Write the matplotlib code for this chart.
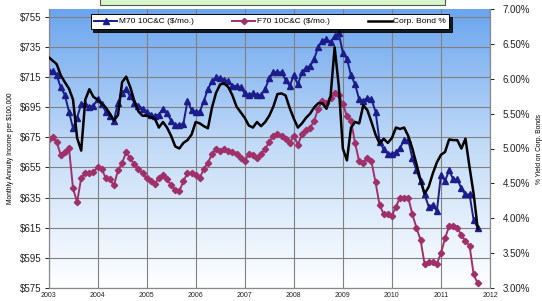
import numpy as np
import matplotlib
matplotlib.use("Agg")
import matplotlib.pyplot as plt
from matplotlib.patches import Rectangle
from matplotlib.colors import LinearSegmentedColormap

plt.rcParams['font.family'] = ['Liberation Sans', 'DejaVu Sans']

# monthly readings, Jan 2003 .. Oct 2011
start_year = 2003
m70 = [719, 719, 716, 708, 703, 692, 681, 688, 697, 697,
       695, 696, 700, 697, 692, 689, 686, 698, 704, 707,
       702, 698, 696, 694, 692, 690, 689, 690, 694, 691,
       686, 683, 683, 684, 699, 693, 692, 692, 699, 707,
       712, 715, 714, 713, 712, 709, 709, 708, 704, 703,
       704, 703, 703, 707, 714, 718, 718, 718, 713, 709,
       716, 710, 718, 721, 722, 727, 735, 739, 740, 738,
       742, 744, 731, 727, 716, 710, 700, 699, 701, 700,
       692, 672, 667, 664, 664, 665, 668, 673, 673, 661,
       653, 646, 637, 629, 630, 626, 650, 646, 653, 647,
       647, 641, 637, 637, 620, 615]
f70 = [674, 675, 672, 663, 665, 668, 641, 632, 648, 651,
       651, 652, 655, 654, 648, 647, 643, 653, 658, 665,
       661, 657, 654, 651, 648, 646, 644, 648, 650, 647,
       643, 640, 639, 646, 651, 651, 650, 648, 654, 658,
       664, 667, 666, 667, 666, 665, 664, 661, 659, 664,
       663, 661, 664, 667, 672, 676, 677, 676, 674, 671,
       676, 670, 677, 680, 681, 686, 694, 699, 698, 701,
       704, 703, 697, 689, 686, 671, 659, 658, 661, 659,
       645, 630, 624, 624, 623, 629, 635, 635, 635, 624,
       615, 607, 591, 592, 592, 591, 598, 608, 616, 616,
       615, 610, 606, 603, 584, 578]
bond = [6.31, 6.26, 6.21, 6.05, 5.95, 5.86, 5.70, 5.15, 4.97, 5.70,
        5.85, 5.74, 5.70, 5.64, 5.59, 5.50, 5.40, 5.48, 5.95, 6.03,
        5.88, 5.68, 5.53, 5.47, 5.47, 5.45, 5.43, 5.30, 5.38, 5.30,
        5.18, 5.03, 5.00, 5.08, 5.12, 5.20, 5.38, 5.36, 5.32, 5.29,
        5.59, 5.80, 5.92, 5.93, 5.88, 5.76, 5.60, 5.52, 5.44, 5.33,
        5.30, 5.38, 5.32, 5.38, 5.47, 5.60, 5.78, 5.79, 5.76, 5.58,
        5.43, 5.30, 5.36, 5.44, 5.50, 5.59, 5.65, 5.65, 5.57, 5.75,
        6.45, 5.90, 5.00, 4.83, 5.30, 5.38, 5.36, 5.62, 5.55, 5.38,
        5.20, 5.07, 5.14, 5.08, 5.15, 5.30, 5.28, 5.30, 5.18, 5.00,
        4.78, 4.55, 4.35, 4.45, 4.64, 4.80, 4.91, 4.95, 5.13, 5.12,
        5.12, 5.00, 5.14, 4.73, 4.35, 3.85]
years = list(range(2003, 2013))
left_ticks = list(range(575, 756, 20))
right_ticks = [3.0, 3.5, 4.0, 4.5, 5.0, 5.5, 6.0, 6.5, 7.0]

t = start_year + np.arange(len(m70)) / 12.0

fig = plt.figure(figsize=(5.42, 3.01), dpi=100)
ax = fig.add_axes([48.5 / 542, 1 - 288 / 301, (490 - 48.5) / 542, (288 - 9) / 301])

# blue-to-white background gradient
cmap = LinearSegmentedColormap.from_list("bg", ["#ffffff", "#c4dcf8", "#6ba5ee"])
grad = np.linspace(0, 1, 256).reshape(-1, 1)
ax.imshow(grad, cmap=cmap, aspect="auto", extent=[0, 1, 0, 1],
          transform=ax.transAxes, origin="lower", zorder=0)

grid_c = "#808080"
ax.set_xlim(2003, 2012)
ax.set_ylim(575, 760)
ax.set_xticks(years)
ax.set_xticklabels([str(y) for y in years], fontsize=5)
ax.set_yticks(left_ticks)
ax.set_yticklabels([f"${v}" for v in left_ticks], fontsize=7)
for y in left_ticks:
    ax.axhline(y, color=grid_c, lw=0.8, zorder=1)
for x in years:
    ax.axvline(x, color=grid_c, lw=0.8, zorder=1)
ax.tick_params(axis="x", length=0, pad=3, colors="#222222")
ax.tick_params(axis="y", length=3, width=0.7, pad=2, colors="#222222")
for s in ax.spines.values():
    s.set_color("#888888")
    s.set_linewidth(0.8)
ax.spines["top"].set_visible(False)
ax.set_ylabel("Monthly Annuity Income per $100,000", fontsize=4.8, labelpad=4)

l1, = ax.plot(t, m70, color="#1c1c8a", lw=1.4, marker="^", ms=4.6, zorder=3,
              label="M70 10C&C ($/mo.)")
l2, = ax.plot(t, f70, color="#a0306a", lw=1.4, marker="D", ms=3.2, zorder=3,
              label="F70 10C&C ($/mo.)")

ax2 = ax.twinx()
ax2.set_ylim(3, 7)
ax2.set_yticks(right_ticks)
ax2.set_yticklabels([f"{v:.2f}%" for v in right_ticks], fontsize=7)
ax2.tick_params(axis="y", length=3, width=0.7, pad=6, colors="#222222")
for s in ax2.spines.values():
    s.set_color("#888888")
    s.set_linewidth(0.8)
ax2.spines["top"].set_visible(False)
ax2.set_ylabel("% Yield on Corp. Bonds", fontsize=4.8, labelpad=4)
l3, = ax2.plot(t, bond, color="black", lw=1.8, zorder=4, label="Corp. Bond %")

leg = fig.legend(handles=[l1, l2, l3], loc="center", ncol=3,
                 bbox_to_anchor=(270 / 542, 1 - 21.5 / 301), fontsize=6,
                 frameon=True, fancybox=False, edgecolor="black",
                 framealpha=1, handlelength=2.8, handletextpad=0.2,
                 columnspacing=4.6, borderpad=0.4, numpoints=1,
                 shadow={"color": "black", "alpha": 0.85, "ox": 2, "oy": -2})
leg.get_frame().set_linewidth(0.7)

# top of the cut-off title box
fig.patches.append(Rectangle((100 / 542, 1 - 5 / 301), 345 / 542, 0.05,
                             transform=fig.transFigure, facecolor="#d6f5cb",
                             edgecolor="#555555", lw=0.8))

fig.savefig("out.png", dpi=100)
